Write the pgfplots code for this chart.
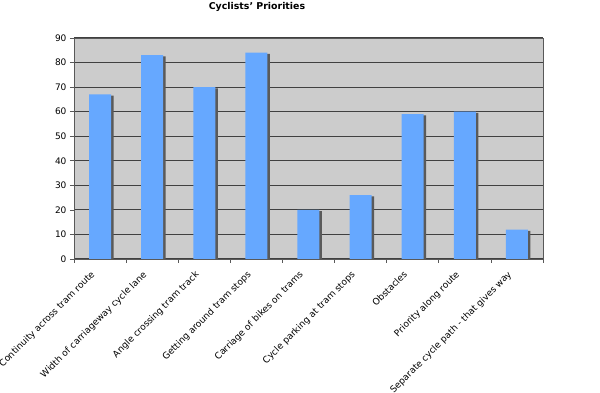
\documentclass[border=0pt]{standalone}
\usepackage{fontspec}
\setmainfont{DejaVu Sans}
\usepackage{pgfplots}
\pgfplotsset{compat=1.18}
\definecolor{barblue}{RGB}{102,168,255}
\definecolor{plotbg}{RGB}{204,204,204}
\definecolor{shadowc}{RGB}{90,90,90}
\begin{document}
\begin{tikzpicture}[x=1pt,y=1pt]
\useasboundingbox (0,0) rectangle (600,393);
\node[font=\bfseries\fontsize{9.4}{11}\selectfont] at (257,386) {Cyclists' Priorities};
\begin{axis}[
  at={(74pt,134pt)}, anchor=south west,
  scale only axis, width=469pt, height=221pt,
  xmin=-0.5, xmax=8.5, ymin=0, ymax=90,
  ytick={0,10,...,90},
  xtick={0,...,8},
  xticklabels={Continuity across tram route,Width of carriageway cycle lane,Angle crossing tram track,Getting around tram stops,Carriage of bikes on trams,Cycle parking at tram stops,Obstacles,Priority along route,Separate cycle path - that gives way},
  minor xtick={-0.5,0.5,...,8.5},
  major x tick style={draw=none},
  minor tick length=4pt,
  major tick length=4pt,
  tick align=outside,
  xtick pos=bottom, ytick pos=left,
  tick style={gray!70!black, line width=0.6pt},
  x tick label style={rotate=45, anchor=north east, font=\fontsize{9.1}{11}\selectfont, inner sep=1pt, xshift=-11pt, yshift=3pt},
  y tick label style={font=\fontsize{9}{10}\selectfont},
  /pgf/number format/assume math mode=true,
  ymajorgrids,
  major grid style={black!75, line width=1.2pt},
  axis background/.style={fill=plotbg},
  axis line style={gray!70!black, line width=0.8pt},
  ybar, bar width=22pt,
  clip=false,
]
\addplot[fill=shadowc, draw=none, bar shift=2.5pt] coordinates {(0,66.5) (1,82.5) (2,69.5) (3,83.5) (4,19.5) (5,25.5) (6,58.5) (7,59.5) (8,11.5)};
\addplot[fill=barblue, draw=none, bar shift=0pt] coordinates {(0,67) (1,83) (2,70) (3,84) (4,20) (5,26) (6,59) (7,60) (8,12)};
\end{axis}
\end{tikzpicture}
\end{document}
